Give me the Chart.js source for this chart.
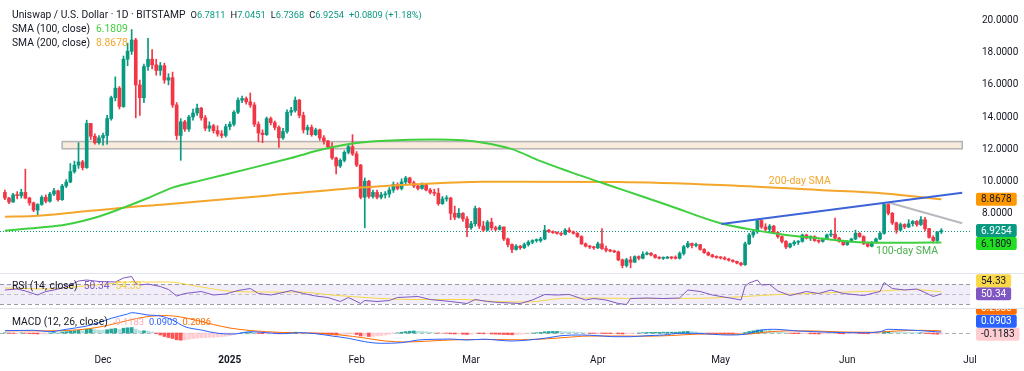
<!DOCTYPE html>
<html>
<head>
<meta charset="utf-8">
<script src="https://cdn.jsdelivr.net/npm/chart.js@4.4.1/dist/chart.umd.min.js"></script>
<style>
  body { margin: 0; background: #fff; width: 1024px; height: 371px; overflow: hidden; position: relative; font-family: Roboto, "Liberation Sans", sans-serif; }
  .pane { position: absolute; left: 0; width: 1024px; }
  #pricePane { top: 0; height: 273px; }
  #rsiPane { top: 274px; height: 34px; }
  #macdPane { top: 309px; height: 62px; }
  .sep { position: absolute; left: 0; width: 1024px; height: 1px; background: #e0e3eb; }
  .lg { position: absolute; left: 12px; font-size: 10.3px; line-height: 12px; color: #131722; white-space: nowrap; z-index: 2; }
  .lg span { margin-left: 6px; }
  .lg .q { margin-left: 5px; font-size: 9.3px; }
  .lg b { font-weight: normal; color: #089981; }
</style>
</head>
<body>
<div class="pane" id="pricePane"><canvas id="price"></canvas></div>
<div class="sep" style="top:273px"></div>
<div class="pane" id="rsiPane"><canvas id="rsi"></canvas></div>
<div class="sep" style="top:308px"></div>
<div class="pane" id="macdPane"><canvas id="macd"></canvas></div>

<div class="lg" style="top:9px">Uniswap / U.S. Dollar · 1D · BITSTAMP<span class="q">O<b>6.7811</b></span><span class="q">H<b>7.0451</b></span><span class="q">L<b>6.7368</b></span><span class="q">C<b>6.9254</b></span><span class="q"><b>+0.0809 (+1.18%)</b></span></div>
<div class="lg" style="top:23px">SMA (100, close)<span style="color:#3fcf3f">6.1809</span></div>
<div class="lg" style="top:37px">SMA (200, close)<span style="color:#f4a62a">8.8678</span></div>
<div class="lg" style="top:280px">RSI (14, close)<span style="color:#7e57c2">50.34</span><span style="color:#f2cd3c">54.33</span></div>
<div class="lg" style="top:316px">MACD (12, 26, close)<span class="q" style="color:#f7a9b0">-0.1183</span><span class="q" style="color:#2962ff">0.0903</span><span class="q" style="color:#ff6d00">0.2086</span></div>

<script>
// daily candles, day 0 = 7 Nov 2024
const firstOpen = 9.3;
const closes = [
  8.95, 8.7, 9.15, 9.1, 9.3, 8.95, 8.65, 8.2, 8.55, 9.0,
  8.75, 9.2, 9.4, 8.85, 9.7, 9.95, 10.6, 11.0, 11.2, 10.85,
  13.6, 12.8, 12.4, 12.7, 12.85, 13.9, 15.2, 15.8, 14.65, 17.6,
  18.1, 18.8, 16.0, 15.2, 17.15, 17.6, 17.25, 16.9, 17.2, 16.3,
  16.45, 14.75, 12.85, 13.7, 13.25, 14.0, 14.25, 14.55, 13.95, 13.3,
  13.45, 13.15, 12.95, 12.85, 13.4, 13.55, 14.3, 15.05, 15.15, 14.95,
  14.75, 13.55, 13.0, 12.9, 13.9, 13.65, 13.35, 12.7, 13.1, 14.3,
  14.4, 15.05, 14.1, 13.2, 13.35, 12.9, 13.2, 12.7, 12.5, 12.15,
  11.45, 10.95, 11.3, 11.8, 12.15, 11.7, 11.0, 9.0, 10.0, 9.05,
  9.3, 9.0, 9.15, 9.2, 9.45, 9.8, 9.55, 9.95, 10.2, 9.9,
  9.7, 9.55, 9.8, 9.45, 9.3, 9.25, 8.6, 8.9, 8.95, 8.0,
  7.75, 8.0, 7.65, 7.1, 7.35, 8.3, 7.2, 6.95, 7.45, 7.1,
  7.0, 7.15, 6.4, 6.05, 5.75, 5.95, 5.85, 6.05, 6.2, 6.3,
  6.3, 6.4, 6.95, 6.85, 6.8, 6.75, 6.7, 6.95, 6.85, 6.75,
  6.55, 6.1, 5.95, 5.9, 5.85, 6.1, 5.8, 5.7, 5.65, 5.6,
  5.1, 4.75, 5.1, 4.95, 5.3, 5.2, 5.45, 5.52, 5.4, 5.25,
  5.2, 5.2, 5.25, 5.22, 5.2, 5.5, 5.92, 6.12, 6.0, 6.05,
  5.75, 5.55, 5.4, 5.3, 5.25, 5.22, 5.15, 5.08, 5.0, 4.9,
  4.8, 6.1, 6.65, 6.85, 7.55, 7.15, 7.0, 7.2, 6.8, 6.55,
  6.25, 5.9, 6.1, 6.2, 6.25, 6.65, 6.45, 6.55, 6.3, 6.25,
  6.4, 6.65, 6.7, 6.45, 6.25, 6.05, 6.25, 6.4, 6.75, 6.55,
  6.1, 5.95, 6.2, 6.4, 6.75, 8.55, 8.0, 7.4, 6.95, 7.3,
  7.15, 7.35, 7.5, 7.3, 7.6, 7.05, 6.5, 6.3, 6.8445, 6.9254
];
const highs = [
  9.45, 9.0, 9.25, 9.35, 9.5, 10.75, 9.0, 8.7, 8.6, 9.1,
  9.15, 9.3, 9.55, 9.45, 9.8, 10.1, 11.1, 11.25, 12.4, 11.3,
  13.8, 13.6, 12.95, 12.85, 13.0, 14.1, 15.3, 16.5, 15.9, 17.8,
  18.6, 19.45, 18.9, 16.3, 17.3, 18.9, 18.2, 17.6, 17.4, 17.35,
  16.7, 16.8, 14.9, 13.9, 13.8, 14.1, 14.5, 14.8, 14.6, 14.1,
  13.7, 13.55, 13.45, 13.15, 13.55, 13.7, 14.4, 15.2, 15.3, 15.25,
  15.5, 14.9, 13.7, 13.2, 14.0, 14.0, 13.75, 13.45, 13.3, 14.45,
  14.6, 15.25, 15.1, 14.3, 13.5, 13.5, 13.3, 13.25, 12.85, 12.55,
  12.4, 11.5, 11.4, 11.9, 12.3, 12.9, 11.85, 11.05, 10.2, 10.05,
  9.45, 9.45, 9.3, 9.35, 9.6, 9.95, 9.9, 10.15, 10.3, 10.25,
  10.0, 9.8, 9.9, 9.85, 9.55, 9.5, 9.55, 9.05, 9.1, 9.0,
  8.45, 8.3, 8.05, 7.8, 7.5, 8.45, 8.35, 7.5, 7.55, 7.7,
  7.2, 7.25, 7.15, 6.45, 6.1, 6.05, 6.0, 6.15, 6.3, 6.35,
  6.4, 6.5, 7.25, 7.0, 6.9, 6.85, 6.8, 7.05, 7.1, 6.9,
  6.8, 6.6, 6.15, 6.0, 5.95, 6.2, 7.05, 5.95, 5.75, 5.7,
  5.65, 5.15, 5.2, 5.3, 5.35, 5.35, 5.6, 5.6, 5.55, 5.45,
  5.3, 5.28, 5.32, 5.3, 5.35, 5.6, 6.0, 6.25, 6.15, 6.15,
  6.05, 5.8, 5.6, 5.45, 5.35, 5.3, 5.3, 5.2, 5.1, 5.02,
  4.95, 6.2, 6.75, 6.95, 7.6, 7.6, 7.35, 7.3, 7.25, 6.85,
  6.6, 6.3, 6.15, 6.3, 6.3, 6.7, 6.7, 6.6, 6.6, 6.35,
  6.45, 6.7, 6.95, 7.7, 6.5, 6.3, 6.3, 6.45, 6.95, 6.8,
  6.6, 6.15, 6.25, 6.45, 6.85, 8.66, 8.6, 8.05, 7.45, 7.4,
  7.35, 7.6, 7.55, 7.55, 7.8, 7.75, 7.05, 6.6, 6.85, 7.0451
];
const lows = [
  8.85, 8.6, 8.7, 8.9, 8.95, 8.9, 8.5, 8.1, 7.9, 8.5,
  8.65, 8.7, 9.1, 8.75, 8.8, 9.6, 9.9, 10.5, 10.8, 10.7,
  10.8, 12.6, 12.3, 12.3, 12.25, 12.3, 13.8, 15.0, 14.5, 14.6,
  17.2, 17.9, 13.95, 14.1, 14.9, 16.9, 17.0, 16.6, 16.6, 16.1,
  16.0, 14.6, 12.6, 11.3, 13.1, 13.1, 13.8, 14.1, 13.8, 13.15,
  13.1, 13.0, 12.8, 12.7, 12.75, 13.2, 13.45, 14.2, 14.9, 14.8,
  14.6, 13.4, 12.45, 12.4, 12.85, 13.5, 13.2, 12.1, 12.6, 13.0,
  14.1, 14.3, 13.95, 13.0, 12.9, 12.8, 12.85, 12.55, 12.3, 12.05,
  11.35, 10.45, 10.85, 11.2, 11.7, 11.6, 10.9, 8.9, 7.1, 8.95,
  8.95, 8.9, 8.9, 8.95, 9.0, 9.3, 9.45, 9.45, 9.85, 9.8,
  9.6, 9.45, 9.5, 9.4, 9.2, 9.1, 8.5, 8.55, 8.75, 7.6,
  7.6, 7.7, 7.5, 6.55, 7.0, 7.2, 7.05, 6.85, 6.9, 6.95,
  6.9, 6.95, 6.3, 5.9, 5.55, 5.7, 5.75, 5.8, 5.95, 6.1,
  6.2, 6.2, 6.35, 6.8, 6.75, 6.7, 6.6, 6.65, 6.8, 6.7,
  6.5, 6.05, 5.9, 5.8, 5.75, 5.8, 5.75, 5.6, 5.6, 5.55,
  5.05, 4.6, 4.65, 4.6, 4.95, 5.1, 5.15, 5.4, 5.35, 5.2,
  5.15, 5.12, 5.18, 5.15, 5.15, 5.15, 5.4, 5.85, 5.85, 5.9,
  5.7, 5.5, 5.35, 5.25, 5.2, 5.15, 5.1, 5.02, 4.95, 4.85,
  4.72, 4.75, 6.05, 6.5, 6.75, 7.05, 6.9, 6.85, 6.75, 6.45,
  6.15, 5.8, 5.85, 6.0, 6.05, 6.2, 6.4, 6.3, 6.25, 6.15,
  6.2, 6.35, 6.55, 6.4, 6.2, 6.0, 6.0, 6.2, 6.35, 6.5,
  6.05, 5.9, 5.9, 6.15, 6.35, 6.7, 7.9, 7.3, 6.75, 6.9,
  7.05, 7.1, 7.2, 7.2, 7.25, 6.9, 6.45, 6.15, 6.15, 6.7368
];

// moving averages (day, value)
const sma100Days = [0, 8, 15, 23, 29, 35, 41, 48, 60, 70, 78, 85, 93, 105, 112, 117, 124, 131, 138, 146, 150, 162, 175, 184, 191, 199, 207, 215, 222, 229];
const sma100 = [6.92, 7.1, 7.3, 7.8, 8.35, 8.95, 9.6, 10.05, 10.8, 11.45, 12.0, 12.35, 12.52, 12.6, 12.55, 12.4, 12.0, 11.25, 10.6, 9.9, 9.55, 8.52, 7.38, 6.92, 6.65, 6.44, 6.23, 6.17, 6.17, 6.1809];
const sma200Days = [0, 7, 15, 29, 39, 48, 64, 82, 97, 117, 128, 150, 175, 199, 215, 229];
const sma200 = [7.78, 7.83, 8.0, 8.35, 8.55, 8.75, 9.1, 9.5, 9.76, 9.97, 9.97, 9.95, 9.76, 9.45, 9.24, 8.8678];

// drawn levels
const risingDays = [175.2, 234.1];
const risingVals = [7.33, 9.28];
const fallingDays = [216.3, 234.1];
const fallingVals = [8.66, 7.38];
const zoneDays = [14, 234.1];
const zoneVals = [12.02, 12.47];

// RSI (14) and its average
const rsiDays = [0, 3, 5, 8, 10, 12, 14, 16, 18, 20, 23, 27, 29, 31, 32, 33, 35, 38, 40, 42, 44, 48, 51, 54, 57, 60, 62, 65, 68, 70, 73, 76, 79, 82, 84, 87, 88, 91, 94, 96, 101, 104, 109, 113, 115, 118, 121, 126, 129, 132, 135, 138, 142, 144, 147, 150, 152, 153, 157, 161, 165, 167, 170, 173, 178, 180, 181, 182, 184, 185, 187, 189, 192, 196, 199, 202, 205, 210, 214, 215, 217, 220, 223, 225, 227, 229];
const rsiVals = [58, 60, 56, 48, 55, 58, 62, 68, 76, 78, 75, 74, 82, 85, 71, 68, 70, 65, 59, 46, 51, 55, 48, 50, 57, 61, 51, 48, 53, 57, 51, 46, 43, 35, 43, 31, 37, 35, 37, 43, 45, 39, 35, 31, 39, 35, 33, 31, 38, 49, 48, 49, 38, 41, 38, 31, 29, 41, 42, 41, 42, 58, 55, 48, 41, 38, 66, 72, 78, 68, 69, 56, 47, 55, 51, 58, 51, 47, 55, 73, 61, 58, 60, 53, 45, 50.34];
const rsiMaDays = [0, 10, 18, 25, 30, 40, 48, 56, 64, 72, 80, 90, 100, 112, 120, 128, 136, 145, 153, 165, 173, 181, 189, 197, 206, 214, 222, 229];
const rsiMaVals = [62, 60, 65, 70, 74, 74, 64, 55, 54, 54, 48, 42, 39, 39, 35, 34, 41, 42, 41, 41, 42, 45, 49, 51, 54, 56, 59, 54.33];

// MACD (12, 26)
const macdDays = [0, 7, 11, 15, 20, 23, 26, 30, 31, 35, 38, 41, 44, 48, 52, 56, 60, 64, 68, 72, 76, 80, 84, 88, 92, 97, 101, 105, 109, 113, 117, 124, 128, 133, 136, 141, 145, 149, 153, 157, 161, 165, 169, 173, 177, 181, 185, 188, 194, 198, 206, 210, 214, 216, 221, 224, 229];
const macdVals = [0.23, 0.27, 0.13, 0.37, 0.7, 1.03, 1.47, 1.9, 2.03, 1.8, 1.7, 1.3, 0.63, 0.3, -0.03, -0.1, 0.13, 0.03, -0.07, 0.03, -0.07, -0.3, -0.53, -0.87, -1.03, -0.97, -0.7, -0.63, -0.6, -0.7, -0.62, -0.8, -0.7, -0.47, -0.27, -0.2, -0.27, -0.37, -0.37, -0.27, -0.2, -0.03, -0.03, -0.13, -0.2, -0.13, 0.3, 0.37, 0.2, 0.13, 0.03, 0.03, 0.13, 0.37, 0.3, 0.23, 0.0903];
const signalDays = [0, 10, 15, 20, 25, 30, 35, 39, 43, 47, 51, 55, 60, 68, 76, 82, 88, 93, 98, 104, 110, 118, 125, 131, 137, 143, 150, 157, 163, 169, 175, 181, 186, 192, 198, 205, 212, 218, 224, 229];
const signalVals = [0.22, 0.22, 0.25, 0.4, 0.75, 1.25, 1.65, 1.75, 1.6, 1.25, 0.85, 0.5, 0.25, 0.05, -0.02, -0.2, -0.5, -0.8, -0.9, -0.8, -0.68, -0.65, -0.68, -0.62, -0.45, -0.3, -0.3, -0.32, -0.25, -0.12, -0.1, -0.12, 0.08, 0.22, 0.2, 0.1, 0.07, 0.2, 0.27, 0.2086];
const histVals = [
  0.02, -0.02, -0.04, -0.03, 0.01, -0.02, -0.05, -0.08, -0.1, -0.06,
  -0.05, 0.0, 0.05, 0.03, 0.1, 0.13, 0.18, 0.22, 0.26, 0.22,
  0.38, 0.4, 0.34, 0.3, 0.28, 0.33, 0.4, 0.45, 0.36, 0.48,
  0.52, 0.55, 0.38, 0.22, 0.22, 0.2, 0.1, -0.05, -0.2, -0.35,
  -0.45, -0.55, -0.68, -0.72, -0.7, -0.62, -0.56, -0.52, -0.48, -0.46,
  -0.44, -0.42, -0.4, -0.37, -0.32, -0.27, -0.18, -0.05, 0.02, 0.05,
  0.06, 0.0, -0.05, -0.07, -0.03, -0.02, -0.04, -0.08, -0.06, 0.0,
  0.04, 0.08, 0.06, 0.02, 0.0, -0.02, -0.05, -0.08, -0.1, -0.12,
  -0.15, -0.2, -0.18, -0.14, -0.12, -0.1, -0.15, -0.3, -0.3, -0.35,
  -0.35, -0.3, -0.26, -0.2, -0.12, -0.05, 0.02, 0.08, 0.14, 0.18,
  0.2, 0.18, 0.16, 0.12, 0.08, 0.04, -0.02, -0.02, -0.03, -0.08,
  -0.1, -0.1, -0.12, -0.15, -0.12, -0.02, -0.06, -0.08, -0.08, -0.1,
  -0.12, -0.13, -0.15, -0.17, -0.18, -0.15, -0.12, -0.08, -0.05, 0.0,
  0.03, 0.06, 0.12, 0.15, 0.16, 0.16, 0.15, 0.13, 0.12, 0.1,
  0.08, 0.04, 0.0, -0.02, -0.04, -0.03, -0.04, -0.05, -0.06, -0.06,
  -0.08, -0.1, -0.08, -0.06, -0.03, 0.0, 0.03, 0.05, 0.06, 0.07,
  0.07, 0.08, 0.08, 0.08, 0.08, 0.1, 0.14, 0.16, 0.14, 0.1,
  0.04, 0.02, -0.02, -0.05, -0.06, -0.07, -0.08, -0.09, -0.1, -0.1,
  -0.1, 0.05, 0.15, 0.22, 0.3, 0.3, 0.28, 0.25, 0.2, 0.14,
  0.08, 0.02, -0.03, -0.06, -0.07, -0.07, -0.06, -0.08, -0.09, -0.1,
  -0.08, -0.06, -0.04, -0.04, -0.06, -0.08, -0.08, -0.06, -0.04, -0.05,
  -0.07, -0.08, -0.06, -0.04, -0.02, 0.12, 0.15, 0.14, 0.1, 0.08,
  0.06, 0.05, 0.04, 0.03, 0.03, -0.02, -0.06, -0.1, -0.12, -0.1183
];

// axis labels
const monthDays = [24, 55, 86, 114, 145, 175, 206, 236];
const monthLabels = ["Dec", "2025", "Feb", "Mar", "Apr", "May", "Jun", "Jul"];
const priceTicks = [8, 10, 12, 14, 16, 18, 20];

const UP = "#089981", DOWN = "#f23645";
const FONT = "Roboto";
const last = a => a[a.length - 1];
const pts = (days, vals) => days.map((d, i) => ({ x: d, y: vals[i] }));

const opens = closes.map((c, i) => (i === 0 ? firstOpen : closes[i - 1]));
const bodies = closes.map((c, i) => ({ x: i, y: [opens[i], c] }));
const wicks = closes.map((c, i) => ({ x: i, y: [Math.min(lows[i], opens[i], c), Math.max(highs[i], opens[i], c)] }));
const candleColors = closes.map((c, i) => (c >= opens[i] ? UP : DOWN));
const histColors = histVals.map((v, i) => {
  const prev = i ? histVals[i - 1] : 0;
  if (v >= 0) return v >= prev ? "#26a69a" : "#b2dfdb";
  return v < prev ? "#ff5252" : "#ffcdd2";
});

function xAxis(show) {
  return {
    type: "linear", min: -1.2, max: 236, offset: false, display: show,
    grid: { display: false, drawTicks: false }, border: { display: false },
    afterBuildTicks: a => { a.ticks = monthDays.map(v => ({ value: v })); },
    afterFit: a => { a.height = show ? 24 : 0; a.paddingLeft = 0; a.paddingRight = 0; },
    ticks: {
      autoSkip: false, maxRotation: 0, padding: 7, color: "#131722",
      font: c => ({ family: FONT, size: 10, weight: c.tick && c.tick.value === 55 ? "bold" : "normal" }),
      callback: v => monthLabels[monthDays.indexOf(v)]
    }
  };
}
function yAxis(min, max, ticks) {
  const ax = {
    position: "right", min: min, max: max,
    grid: { display: false, drawTicks: false }, border: { display: false },
    // fixed-width price scale, no extra label padding above/below the plot
    afterFit: a => { a.width = 54; a.paddingTop = 0; a.paddingBottom = 0; },
    ticks: { display: !!ticks, padding: 12, color: "#131722", font: { family: FONT, size: 10 }, callback: v => v.toFixed(4) }
  };
  if (ticks) ax.afterBuildTicks = a => { a.ticks = ticks.map(v => ({ value: v })); };
  return ax;
}
function baseOptions(showX, yMin, yMax, ticks) {
  return {
    responsive: true, maintainAspectRatio: false, animation: false, events: [],
    layout: { padding: 0, autoPadding: false },
    plugins: { legend: { display: false }, tooltip: { enabled: false } },
    scales: { x: xAxis(showX), y: yAxis(yMin, yMax, ticks) }
  };
}
function lineSet(data, color, width, order, smooth) {
  return {
    type: "line", data: data, borderColor: color, borderWidth: width, pointRadius: 0,
    fill: false, order: order, cubicInterpolationMode: smooth ? "monotone" : "default", tension: 0
  };
}

// value tags on the right scale, nudged apart so they don't overlap
function valueTags(chart, items, digits, upward) {
  const { ctx, chartArea: a, scales: { y } } = chart;
  const h = 13;
  const list = items.map(it => Object.assign({}, it, { py: y.getPixelForValue(it.value) }));
  list.sort((p, q) => (upward ? q.py - p.py : p.py - q.py));
  for (let i = 1; i < list.length; i++) {
    list[i].py = upward ? Math.min(list[i].py, list[i - 1].py - h) : Math.max(list[i].py, list[i - 1].py + h);
  }
  ctx.save();
  ctx.font = "10px " + FONT;
  ctx.textBaseline = "middle";
  list.forEach(it => {
    const txt = it.value.toFixed(digits);
    const w = ctx.measureText(txt).width + 10;
    ctx.fillStyle = it.bg;
    ctx.beginPath();
    ctx.roundRect(a.right + 6, it.py - h / 2, w, h, 2);
    ctx.fill();
    ctx.fillStyle = it.fg;
    ctx.fillText(txt, a.right + 11, it.py + 0.5);
  });
  ctx.restore();
}
function hLine(chart, value, color, dash) {
  const { ctx, chartArea: a, scales: { y } } = chart;
  const py = Math.round(y.getPixelForValue(value)) + 0.5;
  ctx.save();
  ctx.strokeStyle = color;
  ctx.lineWidth = 1;
  ctx.setLineDash(dash);
  ctx.beginPath();
  ctx.moveTo(a.left, py);
  ctx.lineTo(a.right, py);
  ctx.stroke();
  ctx.restore();
}

const priceExtras = {
  id: "priceExtras",
  beforeDatasetsDraw(chart) {
    const { ctx, chartArea: a, scales: { x, y } } = chart;
    ctx.save();
    ctx.beginPath();
    ctx.rect(a.left, a.top, a.width, a.height);
    ctx.clip();
    const x0 = x.getPixelForValue(zoneDays[0]), x1 = x.getPixelForValue(zoneDays[1]);
    const y0 = y.getPixelForValue(zoneVals[1]), y1 = y.getPixelForValue(zoneVals[0]);
    ctx.fillStyle = "rgba(246, 228, 208, 0.75)";
    ctx.fillRect(x0, y0, x1 - x0, y1 - y0);
    ctx.strokeStyle = "#b4b4b4";
    ctx.lineWidth = 1.5;
    ctx.strokeRect(x0, y0, x1 - x0, y1 - y0);
    ctx.restore();
    hLine(chart, last(closes), UP, [1, 2]);
  },
  afterDraw(chart) {
    const { ctx, scales: { x, y } } = chart;
    ctx.save();
    ctx.font = "10.5px " + FONT;
    ctx.textAlign = "center";
    ctx.textBaseline = "middle";
    ctx.fillStyle = "#f4a62a";
    ctx.fillText("200-day SMA", x.getPixelForValue(194.4), y.getPixelForValue(9.98));
    ctx.fillStyle = "#4caf50";
    ctx.fillText("100-day SMA", x.getPixelForValue(220.6), y.getPixelForValue(5.62));
    ctx.restore();
    valueTags(chart, [
      { value: last(sma200), bg: "#ff9800", fg: "#131722" },
      { value: last(closes), bg: UP, fg: "#ffffff" },
      { value: last(sma100), bg: "#22dd22", fg: "#131722" }
    ], 4, false);
  }
};

const rsiExtras = {
  id: "rsiExtras",
  beforeDatasetsDraw(chart) {
    const { ctx, chartArea: a, scales: { y } } = chart;
    const top = y.getPixelForValue(70), bottom = y.getPixelForValue(30);
    ctx.save();
    ctx.fillStyle = "rgba(126, 87, 194, 0.1)";
    ctx.fillRect(a.left, top, a.width, bottom - top);
    ctx.restore();
    hLine(chart, 70, "rgba(120, 123, 134, 0.75)", [4, 3]);
    hLine(chart, 50, "rgba(120, 123, 134, 0.4)", [4, 3]);
    hLine(chart, 30, "rgba(120, 123, 134, 0.75)", [4, 3]);
  },
  afterDraw(chart) {
    valueTags(chart, [
      { value: last(rsiVals), bg: "#7e57c2", fg: "#ffffff" },
      { value: last(rsiMaVals), bg: "#fbd84a", fg: "#131722" }
    ], 2, true);
  }
};

const macdExtras = {
  id: "macdExtras",
  beforeDatasetsDraw(chart) {
    hLine(chart, 0, "rgba(120, 123, 134, 0.6)", [4, 3]);
  },
  afterDraw(chart) {
    valueTags(chart, [
      { value: last(histVals), bg: "#ffcdd2", fg: "#131722" },
      { value: last(macdVals), bg: "#2962ff", fg: "#ffffff" },
      { value: last(signalVals), bg: "#ff6d00", fg: "#ffffff" }
    ], 4, true);
  }
};

new Chart(document.getElementById("price"), {
  type: "bar",
  data: {
    datasets: [
      lineSet(pts(risingDays, risingVals), "#3d63d8", 2, -3, false),
      lineSet(pts(fallingDays, fallingVals), "#b7b9c0", 2, -3, false),
      lineSet(pts(sma100Days, sma100), "#3fcf3f", 2, -2, true),
      lineSet(pts(sma200Days, sma200), "#f4a62a", 2, -2, true),
      { data: bodies, backgroundColor: candleColors, barThickness: 3, minBarLength: 1, grouped: false, order: 0 },
      { data: wicks, backgroundColor: candleColors, barThickness: 1, grouped: false, order: 1 }
    ]
  },
  options: baseOptions(false, 4.28, 21.29, priceTicks),
  plugins: [priceExtras]
});

new Chart(document.getElementById("rsi"), {
  type: "line",
  data: {
    datasets: [
      lineSet(pts(rsiMaDays, rsiMaVals), "#f7d64a", 1, 1, true),
      lineSet(pts(rsiDays, rsiVals), "#7e57c2", 1, 0, false)
    ]
  },
  options: baseOptions(false, 22, 90, null),
  plugins: [rsiExtras]
});

new Chart(document.getElementById("macd"), {
  type: "bar",
  data: {
    datasets: [
      lineSet(pts(signalDays, signalVals), "#ff6d00", 1, -1, true),
      lineSet(pts(macdDays, macdVals), "#2962ff", 1, -2, true),
      { data: histVals.map((v, i) => ({ x: i, y: v })), backgroundColor: histColors, barThickness: 3, grouped: false, order: 0 }
    ]
  },
  options: baseOptions(true, -1.4, 2.4, null),
  plugins: [macdExtras]
});
</script>
</body>
</html>
